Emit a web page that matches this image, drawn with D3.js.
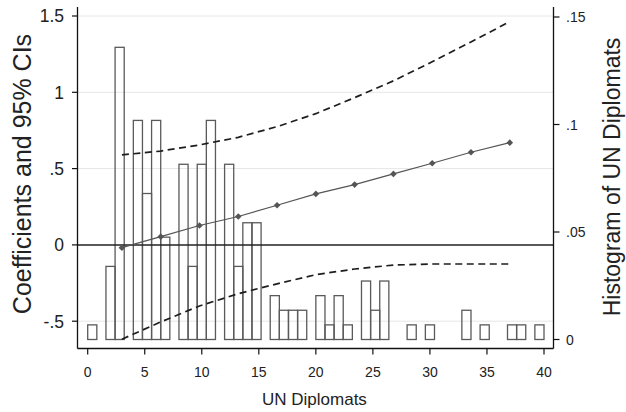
<!DOCTYPE html>
<html>
<head>
<meta charset="utf-8">
<script src="https://cdn.jsdelivr.net/npm/d3@7"></script>
<style>
  html, body { margin: 0; padding: 0; background: #fff; }
  svg { display: block; font-family: "Liberation Sans", Arial, sans-serif; }
</style>
</head>
<body>
<svg id="chart" width="626" height="412"></svg>
<script>
// ---- data ----
const binWidth = 0.8;
const histBinStart = [0.0, 1.6, 2.4, 4.0, 4.8, 5.6, 6.4, 8.0, 8.8, 9.6, 10.4, 12.0, 12.8, 13.6, 14.4,
  16.0, 16.8, 17.6, 18.4, 20.0, 20.8, 21.6, 22.4, 24.0, 24.8, 25.6, 28.0, 29.6, 32.8, 34.4, 36.8, 37.6, 39.2];
const histDensity = [0.0068, 0.034, 0.1359, 0.1019, 0.0679, 0.1019, 0.0476, 0.0815, 0.034, 0.0815, 0.1019,
  0.0815, 0.034, 0.0543, 0.0543, 0.0204, 0.0136, 0.0136, 0.0136, 0.0204, 0.0068, 0.0204, 0.0068,
  0.0272, 0.0136, 0.0272, 0.0068, 0.0068, 0.0136, 0.0068, 0.0068, 0.0068, 0.0068];

const diplomats = [3, 6.4, 9.8, 13.2, 16.6, 20, 23.4, 26.8, 30.2, 33.6, 37];
const coef  = [-0.018, 0.054, 0.127, 0.186, 0.260, 0.334, 0.395, 0.465, 0.535, 0.607, 0.670];
const upper = [0.590, 0.615, 0.655, 0.705, 0.775, 0.860, 0.965, 1.075, 1.200, 1.330, 1.463];
const lower = [-0.618, -0.505, -0.400, -0.320, -0.255, -0.195, -0.158, -0.132, -0.125, -0.125, -0.125];

const xTicks = [0, 5, 10, 15, 20, 25, 30, 35, 40];
const yLeftTicks = [-0.5, 0, 0.5, 1, 1.5];
const yLeftLabels = ["-.5", "0", ".5", "1", "1.5"];
const yRightTicks = [0, 0.05, 0.1, 0.15];
const yRightLabels = ["0", ".05", ".1", ".15"];

// ---- layout ----
const svg = d3.select("#chart");
const L = 77.5, R = 553.5, T = 7, B = 348.5;

const x = d3.scaleLinear().domain([0, 40]).range([87.7, 544]);
const yL = d3.scaleLinear().domain([-0.5, 1.5]).range([321.2, 16]);
const yR = d3.scaleLinear().domain([0, 0.15]).range([339.5, 17]);

// gridlines
svg.append("g").selectAll("line").data(yLeftTicks.filter(d => d !== 0)).join("line")
  .attr("x1", L).attr("x2", R)
  .attr("y1", d => yL(d)).attr("y2", d => yL(d))
  .attr("stroke", "#e6e6e6").attr("stroke-width", 1);

// histogram
svg.append("g").selectAll("rect").data(histBinStart.map((s, i) => ({s, d: histDensity[i]}))).join("rect")
  .attr("x", d => x(d.s))
  .attr("width", d => x(d.s + binWidth) - x(d.s))
  .attr("y", d => yR(d.d))
  .attr("height", d => yR(0) - yR(d.d))
  .attr("fill", "none")
  .attr("stroke", "#5a5a5a")
  .attr("stroke-width", 1.3);

// zero line
svg.append("line")
  .attr("x1", L).attr("x2", R).attr("y1", yL(0)).attr("y2", yL(0))
  .attr("stroke", "#222").attr("stroke-width", 1.5);

// CI lines
const line = d3.line().x((d, i) => x(diplomats[i])).y(d => yL(d));
[upper, lower].forEach(arr => {
  svg.append("path").datum(arr)
    .attr("d", line)
    .attr("fill", "none")
    .attr("stroke", "#1e1e1e")
    .attr("stroke-width", 1.7)
    .attr("stroke-dasharray", "7,4.5");
});

// coefficient line
svg.append("path").datum(coef)
  .attr("d", line)
  .attr("fill", "none")
  .attr("stroke", "#555")
  .attr("stroke-width", 1.2);
const diamond = d3.symbol().type(d3.symbolSquare).size(22);
svg.append("g").selectAll("path").data(coef).join("path")
  .attr("d", diamond)
  .attr("transform", (d, i) => `translate(${x(diplomats[i])},${yL(d)}) rotate(45)`)
  .attr("fill", "#555");

// axes lines
const axisColor = "#111";
svg.append("line").attr("x1", L).attr("x2", L).attr("y1", T).attr("y2", B)
  .attr("stroke", axisColor).attr("stroke-width", 1.3);
svg.append("line").attr("x1", R).attr("x2", R).attr("y1", T).attr("y2", B)
  .attr("stroke", axisColor).attr("stroke-width", 1.3);
svg.append("line").attr("x1", L).attr("x2", R).attr("y1", B).attr("y2", B)
  .attr("stroke", axisColor).attr("stroke-width", 1.3);

// left ticks
const gl = svg.append("g");
gl.selectAll("line").data(yLeftTicks).join("line")
  .attr("x1", L - 5.5).attr("x2", L).attr("y1", d => yL(d)).attr("y2", d => yL(d))
  .attr("stroke", axisColor).attr("stroke-width", 1.2);
gl.selectAll("text").data(yLeftTicks).join("text")
  .attr("x", 64).attr("y", d => yL(d)).attr("dy", "0.36em")
  .attr("text-anchor", "end").attr("font-size", 17.5).attr("fill", "#222")
  .text((d, i) => yLeftLabels[i]);

// right ticks
const gr = svg.append("g");
gr.selectAll("line").data(yRightTicks).join("line")
  .attr("x1", R).attr("x2", R + 6).attr("y1", d => yR(d)).attr("y2", d => yR(d))
  .attr("stroke", axisColor).attr("stroke-width", 1.2);
gr.selectAll("text").data(yRightTicks).join("text")
  .attr("x", 566).attr("y", d => yR(d)).attr("dy", "0.36em")
  .attr("text-anchor", "start").attr("font-size", 14).attr("fill", "#222")
  .text((d, i) => yRightLabels[i]);

// bottom ticks
const gb = svg.append("g");
gb.selectAll("line").data(xTicks).join("line")
  .attr("x1", d => x(d)).attr("x2", d => x(d)).attr("y1", B).attr("y2", B + 6)
  .attr("stroke", axisColor).attr("stroke-width", 1.2);
gb.selectAll("text").data(xTicks).join("text")
  .attr("x", d => x(d)).attr("y", 377)
  .attr("text-anchor", "middle").attr("font-size", 14).attr("fill", "#222")
  .text(d => d);

// titles
svg.append("text")
  .attr("x", 262).attr("y", 405).attr("text-anchor", "start")
  .attr("font-size", 17).attr("fill", "#222")
  .text("UN Diplomats");
svg.append("text")
  .attr("transform", "translate(31,174) rotate(-90)")
  .attr("text-anchor", "middle").attr("font-size", 25).attr("fill", "#222")
  .text("Coefficients and 95% CIs");
svg.append("text")
  .attr("transform", "translate(620,177) rotate(-90)")
  .attr("text-anchor", "middle").attr("font-size", 23).attr("fill", "#222")
  .text("Histogram of UN Diplomats");
</script>
</body>
</html>
